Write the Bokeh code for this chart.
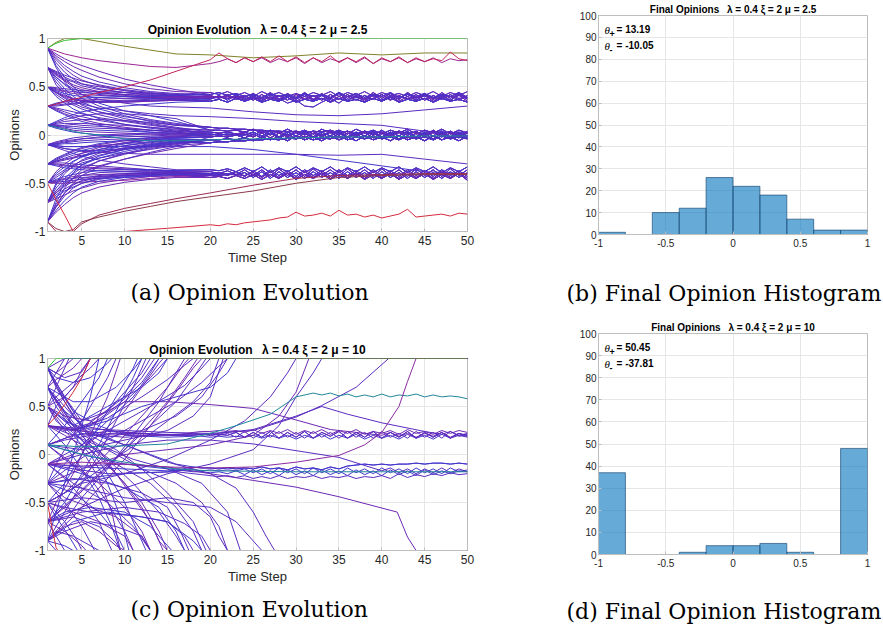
from bokeh.plotting import figure
from bokeh.layouts import row, column
from bokeh.models import Title, Label, FixedTicker, Range1d, CustomJSTickFormatter, ColumnDataSource
from bokeh.embed import file_html
from bokeh.resources import INLINE

# ---------------- data ----------------
X_TICKS = [5, 10, 15, 20, 25, 30, 35, 40, 45, 50]
Y_TICKS = [-1, -0.5, 0, 0.5, 1]
H_XTICKS = [-1, -0.5, 0, 0.5, 1]
H_YTICKS = [0, 10, 20, 30, 40, 50, 60, 70, 80, 90, 100]

TITLE_A = "Opinion Evolution\u2002 \u03bb = 0.4 \u03be = 2 \u03bc = 2.5"
TITLE_B = "Final Opinions\u2002 \u03bb = 0.4 \u03be = 2 \u03bc = 2.5"
TITLE_C = "Opinion Evolution\u2002 \u03bb = 0.4 \u03be = 2 \u03bc = 10"
TITLE_D = "Final Opinions\u2002 \u03bb = 0.4 \u03be = 2 \u03bc = 10"
CAP_A = "(a) Opinion Evolution"
CAP_B = "(b) Final Opinion Histogram"
CAP_C = "(c) Opinion Evolution"
CAP_D = "(d) Final Opinion Histogram"
THETA_B = ["13.19", "-10.05"]
THETA_D = ["50.45", "-37.81"]

BIN_EDGES = [-1, -0.8, -0.6, -0.4, -0.2, 0, 0.2, 0.4, 0.6, 0.8, 1]
COUNTS_B = [1, 0, 10, 12, 26, 22, 18, 7, 2, 2]
COUNTS_D = [37, 0, 0, 1, 4, 4, 5, 1, 0, 48]

COL = {
    "V": "#5a2cc0", "B": "#4536cc", "P": "#6e28b4", "M": "#9b2590",
    "C": "#c0245a", "R": "#d42a3c", "MR": "#9a2c55", "MR2": "#8a3a4a",
    "O": "#80802a", "G": "#33c433", "T": "#21879b", "M2": "#8a2aa0",
}

# ---- panel (a): early knots + late part (track name or knot values) ----
T_E = [1, 2, 3, 4, 5, 7, 10, 13, 16]
T_L = [20, 25, 30, 35, 40, 45, 50]
T_Z = list(range(20, 51))

A_TRACKS = {
 "UZ1": [0.41,0.38,0.42,0.37,0.41,0.36,0.42,0.37,0.41,0.36,0.42,0.37,0.41,0.36,0.42,0.37,0.42,0.36,0.41,0.37,0.42,0.36,0.41,0.37,0.42,0.36,0.41,0.37,0.42,0.36,0.41],
 "UZ2": [0.37,0.41,0.36,0.42,0.37,0.41,0.36,0.42,0.36,0.41,0.37,0.42,0.36,0.41,0.37,0.43,0.36,0.41,0.37,0.42,0.36,0.41,0.37,0.43,0.36,0.42,0.37,0.41,0.36,0.42,0.37],
 "UZ3": [0.44,0.42,0.45,0.41,0.44,0.40,0.45,0.41,0.44,0.40,0.43,0.40,0.44,0.41,0.45,0.40,0.44,0.41,0.45,0.40,0.44,0.41,0.43,0.40,0.44,0.41,0.45,0.40,0.44,0.41,0.45],
 "UZ4": [0.35,0.37,0.34,0.38,0.35,0.38,0.34,0.37,0.35,0.39,0.34,0.37,0.35,0.38,0.34,0.38,0.35,0.37,0.34,0.38,0.35,0.39,0.34,0.37,0.35,0.38,0.34,0.38,0.35,0.37,0.34],
 "UZ5": [0.39,0.40,0.38,0.40,0.39,0.43,0.38,0.44,0.37,0.43,0.38,0.44,0.37,0.43,0.38,0.44,0.38,0.43,0.37,0.44,0.38,0.43,0.37,0.44,0.38,0.43,0.37,0.44,0.38,0.43,0.38],
 "UZ6": [0.40,0.39,0.40,0.39,0.36,0.40,0.35,0.40,0.35,0.41,0.35,0.40,0.36,0.41,0.35,0.40,0.36,0.40,0.35,0.41,0.36,0.40,0.35,0.40,0.36,0.41,0.35,0.40,0.36,0.41,0.35],
 "UZ7": [0.38,0.39,0.38,0.39,0.38,0.39,0.38,0.39,0.38,0.33,0.36,0.30,0.29,0.34,0.38,0.33,0.40,0.39,0.37,0.38,0.42,0.37,0.40,0.38,0.39,0.40,0.38,0.39,0.40,0.38,0.39],
 "UZ8": [0.42,0.44,0.41,0.43,0.40,0.42,0.39,0.43,0.40,0.42,0.39,0.43,0.40,0.42,0.39,0.44,0.40,0.43,0.39,0.42,0.40,0.44,0.39,0.42,0.40,0.43,0.39,0.42,0.40,0.44,0.39],
 "MZ1": [0.03,0.02,0.03,0.01,0.03,0.00,0.04,0.00,0.04,-0.01,0.04,0.00,0.04,-0.01,0.04,0.00,0.04,-0.01,0.04,0.00,0.05,-0.01,0.04,0.00,0.04,-0.01,0.05,0.00,0.04,-0.01,0.04],
 "MZ2": [-0.02,-0.01,-0.02,0.00,-0.03,0.01,-0.03,0.02,-0.03,0.01,-0.04,0.02,-0.03,0.01,-0.04,0.02,-0.03,0.01,-0.04,0.02,-0.03,0.01,-0.04,0.02,-0.03,0.01,-0.04,0.02,-0.03,0.01,-0.03],
 "MZ3": [0.05,0.05,0.04,0.05,0.03,0.06,0.02,0.05,0.02,0.06,0.02,0.05,0.01,0.06,0.02,0.05,0.01,0.06,0.02,0.05,0.01,0.05,0.02,0.06,0.01,0.05,0.02,0.06,0.01,0.05,0.02],
 "MZ4": [-0.05,-0.05,-0.04,-0.05,-0.03,-0.06,-0.02,-0.05,-0.02,-0.06,-0.01,-0.05,-0.02,-0.06,-0.01,-0.05,-0.02,-0.06,-0.01,-0.05,-0.02,-0.06,-0.01,-0.05,-0.02,-0.06,-0.01,-0.05,-0.02,-0.06,-0.01],
 "MZ5": [0.00,0.01,0.00,0.01,0.01,-0.02,0.02,-0.03,0.02,-0.02,0.03,-0.03,0.02,-0.02,0.03,-0.03,0.02,-0.02,0.03,-0.03,0.02,-0.02,0.03,-0.03,0.02,-0.02,0.03,-0.02,0.02,-0.03,0.02],
 "MZ6": [0.08,0.07,0.07,0.06,0.06,0.05,0.05,0.04,0.04,0.03,0.04,0.02,0.04,0.03,0.05,0.02,0.04,0.01,0.04,0.02,0.03,0.01,0.04,0.02,0.03,0.01,0.04,0.02,0.03,0.01,0.03],
 "MZ7": [-0.08,-0.07,-0.07,-0.06,-0.06,-0.05,-0.05,-0.04,-0.05,-0.03,-0.04,-0.02,-0.05,-0.03,-0.04,-0.01,-0.05,-0.02,-0.04,-0.01,-0.04,-0.02,-0.05,-0.01,-0.04,-0.02,-0.05,-0.01,-0.04,-0.02,-0.04],
 "MZ8": [0.01,0.00,0.01,0.00,0.00,0.03,-0.01,0.04,-0.02,0.03,-0.01,0.04,-0.02,0.03,-0.01,0.04,-0.02,0.03,-0.01,0.04,-0.02,0.03,-0.01,0.04,-0.02,0.03,-0.01,0.04,-0.02,0.03,-0.01],
 "LZ1": [-0.38,-0.40,-0.37,-0.41,-0.36,-0.42,-0.36,-0.43,-0.35,-0.42,-0.36,-0.43,-0.35,-0.42,-0.36,-0.43,-0.35,-0.42,-0.36,-0.43,-0.35,-0.42,-0.36,-0.43,-0.35,-0.42,-0.36,-0.43,-0.35,-0.42,-0.36],
 "LZ2": [-0.41,-0.39,-0.42,-0.38,-0.43,-0.37,-0.43,-0.36,-0.42,-0.37,-0.43,-0.36,-0.42,-0.37,-0.43,-0.36,-0.42,-0.37,-0.43,-0.36,-0.42,-0.37,-0.43,-0.36,-0.42,-0.37,-0.43,-0.36,-0.42,-0.37,-0.43],
 "LZ3": [-0.44,-0.43,-0.45,-0.42,-0.45,-0.41,-0.46,-0.41,-0.45,-0.40,-0.46,-0.41,-0.45,-0.40,-0.46,-0.41,-0.45,-0.40,-0.46,-0.41,-0.45,-0.40,-0.46,-0.41,-0.45,-0.40,-0.46,-0.41,-0.45,-0.40,-0.47],
 "LZ4": [-0.36,-0.37,-0.35,-0.38,-0.34,-0.38,-0.33,-0.39,-0.34,-0.38,-0.33,-0.39,-0.34,-0.38,-0.33,-0.39,-0.34,-0.38,-0.33,-0.39,-0.34,-0.38,-0.33,-0.39,-0.34,-0.38,-0.33,-0.39,-0.34,-0.38,-0.33],
 "LZ5": [-0.40,-0.41,-0.40,-0.41,-0.39,-0.44,-0.38,-0.45,-0.38,-0.44,-0.39,-0.45,-0.38,-0.44,-0.39,-0.45,-0.38,-0.44,-0.39,-0.45,-0.38,-0.44,-0.39,-0.45,-0.38,-0.44,-0.39,-0.45,-0.38,-0.44,-0.39],
 "LZ6": [-0.42,-0.42,-0.41,-0.41,-0.42,-0.39,-0.44,-0.38,-0.44,-0.39,-0.45,-0.38,-0.44,-0.39,-0.45,-0.38,-0.44,-0.39,-0.45,-0.38,-0.44,-0.39,-0.45,-0.38,-0.44,-0.39,-0.45,-0.38,-0.44,-0.39,-0.45],
 "MG1": [0.74,0.76,0.79,0.75,0.80,0.76,0.80,0.75,0.79,0.76,0.80,0.74,0.80,0.75,0.79,0.76,0.80,0.75,0.80,0.74,0.79,0.76,0.80,0.75,0.79,0.76,0.80,0.75,0.79,0.77,0.78],
 "MG2": [0.78,0.85,0.79,0.75,0.80,0.76,0.81,0.76,0.82,0.76,0.81,0.75,0.80,0.76,0.82,0.75,0.80,0.76,0.81,0.74,0.80,0.76,0.81,0.75,0.80,0.76,0.79,0.77,0.86,0.79,0.77],
 "RZ": [-0.93,-0.94,-0.92,-0.93,-0.91,-0.90,-0.89,-0.88,-0.86,-0.85,-0.80,-0.84,-0.83,-0.81,-0.84,-0.78,-0.83,-0.82,-0.85,-0.83,-0.86,-0.84,-0.82,-0.77,-0.85,-0.84,-0.83,-0.82,-0.84,-0.81,-0.82],
}

A_LINES = [
 ([0.9,0.96,1.0,1.0,1.0,0.97,0.92,0.88,0.84], [0.83,0.80,0.82,0.85,0.83,0.85,0.85], "O"),
 ([0.9,0.87,0.84,0.82,0.8,0.77,0.74,0.71,0.70], "MG1", "M"),
 ([0.9,0.82,0.76,0.71,0.67,0.6,0.53,0.48,0.45], "UZ3", "P"),
 ([0.9,0.8,0.72,0.66,0.61,0.55,0.49,0.45,0.43], "UZ1", "V"),
 ([0.9,0.78,0.69,0.62,0.57,0.51,0.46,0.43,0.41], "UZ5", "P"),
 ([0.9,0.75,0.65,0.58,0.53,0.48,0.44,0.42,0.40], "UZ2", "V"),
 ([0.9,0.84,0.79,0.75,0.72,0.66,0.58,0.52,0.47], "UZ8", "P"),
 ([0.9,0.7,0.55,0.45,0.38,0.3,0.22,0.16,0.12], "MZ6", "V"),
 ([0.9,0.72,0.6,0.5,0.42,0.33,0.25,0.2,0.14], "MZ3", "B"),
 ([0.7,0.65,0.6,0.56,0.53,0.5,0.46,0.43,0.41], "UZ6", "V"),
 ([0.7,0.63,0.57,0.52,0.49,0.45,0.42,0.40,0.39], "UZ4", "P"),
 ([0.7,0.66,0.62,0.59,0.56,0.52,0.47,0.44,0.42], "UZ8", "V"),
 ([0.7,0.6,0.53,0.48,0.45,0.42,0.4,0.38,0.37], "UZ7", "B"),
 ([0.7,0.62,0.56,0.5,0.47,0.44,0.41,0.39,0.38], "UZ1", "P"),
 ([0.7,0.64,0.58,0.55,0.51,0.47,0.44,0.41,0.40], "UZ2", "V"),
 ([0.7,0.55,0.45,0.37,0.31,0.24,0.17,0.12,0.08], "MZ1", "V"),
 ([0.7,0.58,0.48,0.4,0.34,0.27,0.2,0.14,0.1], "MZ6", "B"),
 ([0.7,0.52,0.42,0.37,0.35,0.34,0.34,0.35,0.36], "UZ4", "V"),
 ([0.7,0.6,0.52,0.46,0.42,0.37,0.33,0.3,0.29], [0.28,0.24,0.21,0.2,0.22,0.26,0.3], "V"),
 ([0.5,0.48,0.46,0.45,0.44,0.43,0.42,0.41,0.40], "UZ5", "V"),
 ([0.5,0.47,0.45,0.43,0.42,0.41,0.4,0.39,0.39], "UZ6", "P"),
 ([0.5,0.49,0.48,0.47,0.46,0.45,0.44,0.43,0.42], "UZ3", "V"),
 ([0.5,0.46,0.43,0.41,0.4,0.39,0.38,0.38,0.37], "UZ2", "B"),
 ([0.5,0.45,0.41,0.38,0.36,0.35,0.35,0.36,0.36], "UZ4", "V"),
 ([0.5,0.44,0.4,0.37,0.35,0.34,0.34,0.35,0.36], "UZ1", "P"),
 ([0.5,0.42,0.36,0.31,0.27,0.21,0.15,0.11,0.07], "MZ5", "V"),
 ([0.5,0.4,0.33,0.27,0.23,0.17,0.11,0.07,0.04], "MZ8", "B"),
 ([0.5,0.44,0.38,0.33,0.29,0.24,0.19,0.15,0.11], "MZ6", "V"),
 ([0.5,0.44,0.39,0.35,0.32,0.28,0.25,0.22,0.2], [0.19,0.17,0.14,0.12,0.1,0.04,0.02], "V"),
 ([0.3,0.31,0.32,0.33,0.34,0.35,0.36,0.37,0.38], "UZ7", "V"),
 ([0.3,0.32,0.34,0.35,0.36,0.37,0.38,0.39,0.4], "UZ5", "P"),
 ([0.3,0.3,0.31,0.32,0.33,0.34,0.35,0.36,0.37], "UZ4", "V"),
 ([0.3,0.33,0.35,0.37,0.38,0.39,0.4,0.4,0.41], "UZ8", "B"),
 ([0.3,0.27,0.24,0.21,0.19,0.15,0.11,0.08,0.05], "MZ1", "V"),
 ([0.3,0.26,0.22,0.19,0.16,0.12,0.08,0.05,0.03], "MZ5", "P"),
 ([0.3,0.28,0.26,0.24,0.22,0.18,0.14,0.1,0.07], "MZ3", "V"),
 ([0.3,0.25,0.21,0.17,0.14,0.1,0.06,0.03,0.01], "MZ8", "B"),
 ([0.1,0.1,0.09,0.09,0.08,0.07,0.06,0.05,0.04], "MZ1", "V"),
 ([0.1,0.09,0.08,0.07,0.06,0.05,0.04,0.03,0.02], "MZ2", "B"),
 ([0.1,0.11,0.12,0.12,0.12,0.11,0.1,0.08,0.06], "MZ3", "V"),
 ([0.1,0.08,0.07,0.05,0.04,0.03,0.02,0.01,0.0], "MZ5", "P"),
 ([0.1,0.12,0.14,0.15,0.16,0.16,0.15,0.13,0.1], "MZ6", "V"),
 ([0.1,0.07,0.05,0.03,0.02,0.0,-0.01,-0.02,-0.02], "MZ8", "B"),
 ([0.1,0.13,0.16,0.18,0.2,0.22,0.22,0.2,0.17], "MZ3", "V"),
 ([0.1,0.09,0.1,0.11,0.1,0.09,0.07,0.05,0.03], "MZ2", "V"),
 ([0.1,0.14,0.18,0.21,0.24,0.27,0.3,0.32,0.34], "UZ4", "B"),
 ([-0.1,-0.09,-0.08,-0.07,-0.06,-0.05,-0.04,-0.03,-0.02], "MZ2", "V"),
 ([-0.1,-0.1,-0.09,-0.09,-0.08,-0.07,-0.06,-0.05,-0.04], "MZ4", "B"),
 ([-0.1,-0.08,-0.06,-0.05,-0.04,-0.03,-0.02,-0.01,0.0], "MZ5", "V"),
 ([-0.1,-0.11,-0.12,-0.12,-0.12,-0.11,-0.09,-0.07,-0.05], "MZ7", "P"),
 ([-0.1,-0.07,-0.05,-0.03,-0.02,0.0,0.01,0.02,0.02], "MZ8", "V"),
 ([-0.1,-0.12,-0.14,-0.15,-0.16,-0.16,-0.14,-0.11,-0.08], "MZ7", "B"),
 ([-0.1,-0.09,-0.07,-0.06,-0.04,-0.02,0.0,0.01,0.01], "MZ1", "V"),
 ([-0.1,-0.13,-0.16,-0.19,-0.22,-0.26,-0.3,-0.33,-0.36], "LZ4", "V"),
 ([-0.1,-0.11,-0.12,-0.12,-0.12,-0.12,-0.12,-0.12,-0.12], [-0.12,-0.15,-0.2,-0.26,-0.32,-0.38,-0.4], "B"),
 ([-0.1,-0.12,-0.14,-0.16,-0.17,-0.18,-0.19,-0.2,-0.2], [-0.2,-0.2,-0.2,-0.21,-0.2,-0.25,-0.3], "V"),
 ([-0.3,-0.31,-0.32,-0.33,-0.34,-0.35,-0.36,-0.37,-0.38], "LZ1", "V"),
 ([-0.3,-0.3,-0.31,-0.32,-0.33,-0.34,-0.35,-0.36,-0.37], "LZ4", "P"),
 ([-0.3,-0.32,-0.34,-0.35,-0.36,-0.37,-0.38,-0.39,-0.4], "LZ2", "B"),
 ([-0.3,-0.29,-0.29,-0.3,-0.31,-0.32,-0.34,-0.36,-0.38], "LZ5", "V"),
 ([-0.3,-0.27,-0.24,-0.21,-0.19,-0.15,-0.11,-0.08,-0.05], "MZ4", "V"),
 ([-0.3,-0.26,-0.22,-0.19,-0.16,-0.12,-0.08,-0.05,-0.03], "MZ2", "B"),
 ([-0.3,-0.28,-0.26,-0.24,-0.22,-0.18,-0.14,-0.1,-0.07], "MZ7", "V"),
 ([-0.3,-0.25,-0.21,-0.17,-0.14,-0.1,-0.06,-0.03,-0.01], "MZ5", "P"),
 ([-0.3,-0.27,-0.25,-0.23,-0.21,-0.18,-0.15,-0.12,-0.09], "MZ4", "V"),
 ([-0.3,-0.24,-0.2,-0.16,-0.13,-0.09,-0.05,-0.03,-0.02], "MZ8", "B"),
 ([-0.5,-0.48,-0.46,-0.45,-0.44,-0.43,-0.42,-0.41,-0.4], "LZ2", "V"),
 ([-0.5,-0.47,-0.45,-0.43,-0.42,-0.41,-0.4,-0.4,-0.39], "LZ1", "P"),
 ([-0.5,-0.49,-0.48,-0.47,-0.46,-0.45,-0.44,-0.43,-0.42], "LZ3", "V"),
 ([-0.5,-0.46,-0.43,-0.41,-0.39,-0.37,-0.36,-0.36,-0.37], "LZ4", "B"),
 ([-0.5,-0.5,-0.5,-0.49,-0.49,-0.48,-0.47,-0.45,-0.43], "LZ6", "M2"),
 ([-0.5,-0.42,-0.36,-0.31,-0.27,-0.21,-0.15,-0.11,-0.07], "MZ7", "V"),
 ([-0.5,-0.4,-0.33,-0.27,-0.23,-0.17,-0.11,-0.07,-0.04], "MZ4", "B"),
 ([-0.5,-0.44,-0.38,-0.33,-0.29,-0.24,-0.19,-0.15,-0.11], "MZ7", "V"),
 ([-0.5,-0.38,-0.3,-0.24,-0.19,-0.13,-0.08,-0.04,-0.02], "MZ2", "P"),
 ([-0.7,-0.62,-0.56,-0.51,-0.48,-0.44,-0.42,-0.41,-0.4], "LZ5", "V"),
 ([-0.7,-0.64,-0.58,-0.54,-0.5,-0.46,-0.43,-0.42,-0.41], "LZ3", "B"),
 ([-0.7,-0.6,-0.53,-0.48,-0.45,-0.42,-0.4,-0.39,-0.39], "LZ1", "V"),
 ([-0.7,-0.66,-0.62,-0.58,-0.55,-0.5,-0.46,-0.43,-0.42], "LZ6", "P"),
 ([-0.7,-0.58,-0.5,-0.45,-0.42,-0.39,-0.38,-0.38,-0.38], "LZ2", "V"),
 ([-0.7,-0.55,-0.45,-0.37,-0.31,-0.24,-0.17,-0.12,-0.08], "MZ4", "B"),
 ([-0.7,-0.52,-0.4,-0.32,-0.26,-0.19,-0.13,-0.09,-0.06], "MZ7", "V"),
 ([-0.7,-0.58,-0.48,-0.4,-0.34,-0.27,-0.2,-0.14,-0.1], "MZ4", "V"),
 ([-0.7,-0.5,-0.37,-0.28,-0.22,-0.15,-0.09,-0.05,-0.03], "MZ2", "B"),
 ([-0.7,-0.6,-0.52,-0.45,-0.39,-0.32,-0.25,-0.19,-0.14], "MZ7", "P"),
 ([-0.9,-0.75,-0.63,-0.55,-0.5,-0.45,-0.42,-0.41,-0.4], "LZ3", "V"),
 ([-0.9,-0.78,-0.68,-0.6,-0.54,-0.48,-0.44,-0.42,-0.41], "LZ5", "B"),
 ([-0.9,-0.72,-0.6,-0.52,-0.47,-0.43,-0.41,-0.4,-0.39], "LZ6", "V"),
 ([-0.9,-0.8,-0.72,-0.65,-0.6,-0.54,-0.49,-0.46,-0.44], "LZ3", "P"),
 ([-0.9,-0.7,-0.55,-0.44,-0.36,-0.27,-0.19,-0.13,-0.09], "MZ4", "V"),
 ([-0.9,-0.66,-0.5,-0.39,-0.31,-0.22,-0.15,-0.1,-0.06], "MZ7", "B"),
 ([-0.9,-0.74,-0.6,-0.5,-0.42,-0.33,-0.25,-0.18,-0.12], "MZ2", "V"),
 ([0.1,0.08,0.06,0.04,0.02,0.0,-0.04,-0.06,-0.06], [-0.05,-0.04,-0.03,-0.02,-0.02,-0.01,-0.01], "T"),
 ([-0.9,-1.0,-1.0,-1.0,-0.92,-0.83,-0.76,-0.71,-0.66], [-0.6,-0.52,-0.45,-0.42,-0.41,-0.4,-0.4], "MR"),
 ([-0.9,-0.97,-1.0,-0.98,-0.9,-0.85,-0.79,-0.74,-0.69], [-0.64,-0.58,-0.5,-0.44,-0.42,-0.41,-0.41], "MR2"),
 ([0.3,0.32,0.35,0.37,0.39,0.44,0.5,0.57,0.66], "MG2", "C"),
 ([-0.5,-0.67,-0.83,-1.0,-1.0,-1.0,-1.0,-0.98,-0.96], "RZ", "R"),
 ([0.9,0.95,0.98,0.99,1.0,1.0,1.0,1.0,1.0], [1,1,1,1,1,1,1], "G"),
]

# ---- panel (c): knot lists (t, v), optional zig-zag track from t=18 ----
T_CT = list(range(18, 51))
C_TRACKS = {
 "CU1": [0.2,0.21,0.2,0.21,0.2,0.23,0.18,0.23,0.18,0.24,0.17,0.23,0.18,0.24,0.17,0.23,0.19,0.24,0.17,0.23,0.18,0.24,0.17,0.23,0.18,0.24,0.17,0.23,0.18,0.23,0.17,0.22,0.19],
 "CU2": [0.22,0.21,0.22,0.2,0.22,0.18,0.24,0.17,0.23,0.18,0.24,0.18,0.23,0.17,0.24,0.18,0.23,0.17,0.24,0.18,0.23,0.17,0.24,0.18,0.22,0.17,0.24,0.18,0.23,0.17,0.24,0.19,0.21],
 "CU3": [0.19,0.19,0.18,0.19,0.18,0.19,0.18,0.2,0.17,0.2,0.17,0.2,0.16,0.2,0.17,0.21,0.16,0.2,0.17,0.21,0.16,0.2,0.17,0.2,0.16,0.21,0.17,0.2,0.16,0.21,0.17,0.2,0.18],
 "CU4": [0.23,0.24,0.24,0.25,0.24,0.25,0.23,0.26,0.22,0.25,0.22,0.26,0.21,0.25,0.22,0.26,0.21,0.25,0.22,0.26,0.21,0.24,0.22,0.25,0.21,0.26,0.22,0.24,0.21,0.25,0.22,0.25,0.23],
 "CL1": [-0.16,-0.17,-0.16,-0.17,-0.16,-0.17,-0.15,-0.19,-0.15,-0.2,-0.14,-0.19,-0.15,-0.2,-0.14,-0.19,-0.15,-0.2,-0.14,-0.19,-0.15,-0.2,-0.14,-0.19,-0.15,-0.2,-0.14,-0.19,-0.15,-0.2,-0.14,-0.18,-0.16],
 "CL2": [-0.18,-0.18,-0.19,-0.18,-0.2,-0.17,-0.21,-0.16,-0.21,-0.17,-0.22,-0.16,-0.21,-0.17,-0.22,-0.16,-0.21,-0.17,-0.22,-0.16,-0.21,-0.17,-0.22,-0.16,-0.21,-0.17,-0.22,-0.16,-0.21,-0.17,-0.2,-0.17,-0.18],
 "CL3": [-0.13,-0.14,-0.14,-0.15,-0.14,-0.15,-0.14,-0.15,-0.13,-0.15,-0.14,-0.16,-0.13,-0.15,-0.14,-0.16,-0.13,-0.15,-0.12,-0.11,-0.1,-0.11,-0.1,-0.11,-0.1,-0.1,-0.09,-0.1,-0.09,-0.09,-0.1,-0.09,-0.1],
 "CL4": [-0.2,-0.21,-0.22,-0.23,-0.22,-0.24,-0.22,-0.25,-0.23,-0.25,-0.22,-0.25,-0.23,-0.24,-0.22,-0.25,-0.23,-0.24,-0.22,-0.25,-0.23,-0.24,-0.22,-0.25,-0.2,-0.24,-0.21,-0.23,-0.2,-0.22,-0.19,-0.21,-0.2],
}

C_LINES = [
 ([(1,0.9),(3,1),(50,1)], None, "V"),
 ([(1,0.9),(2,0.85),(3,0.92),(4,1),(50,1)], None, "P"),
 ([(1,0.9),(3,0.8),(5,0.86),(6,1),(50,1)], None, "V"),
 ([(1,0.9),(2,0.8),(4,0.75),(6,0.8),(8,0.95),(8.5,1),(50,1)], None, "B"),
 ([(1,0.9),(3,0.6),(5,0.35),(8,0.45),(10,0.65),(12,0.85),(13,1),(50,1)], None, "V"),
 ([(1,0.9),(3,0.55),(5,0.28),(7,0.05),(9,-0.2),(11,-0.45),(13,-0.7),(14,-0.9),(15,-1),(50,-1)], None, "P"),
 ([(1,0.9),(2,0.7),(4,0.4),(6,0.2),(9,0.05),(12,-0.15),(15,-0.4),(18,-0.7),(19.5,-1),(50,-1)], None, "V"),
 ([(1,0.9),(3,0.6),(5,0.3),(8,0.25),(12,0.22),(16,0.2)], "CU1", "V"),
 ([(1,0.9),(2,0.72),(4,0.45),(7,0.3),(10,0.2),(15,0.18)], "CU3", "B"),
 ([(1,0.7),(2,0.85),(3,1),(50,1)], None, "V"),
 ([(1,0.7),(2,0.78),(4,0.9),(5,1),(50,1)], None, "P"),
 ([(1,0.7),(3,0.5),(5,0.3),(7,0.35),(10,0.55),(13,0.8),(15,1),(50,1)], None, "V"),
 ([(1,0.7),(2,0.65),(4,0.55),(6,0.55),(9,0.7),(11,0.88),(12,1),(50,1)], None, "B"),
 ([(1,0.7),(3,0.45),(5,0.22),(8,0.18),(12,0.25),(16,0.4),(19,0.6),(21,0.85),(22,1),(50,1)], None, "V"),
 ([(1,0.7),(3,0.4),(5,0.2),(7,0.0),(10,-0.3),(12,-0.55),(13.5,-0.8),(14.5,-1),(50,-1)], None, "P"),
 ([(1,0.7),(4,0.3),(6,0.1),(9,-0.1),(13,-0.3),(16,-0.55),(18,-0.8),(19,-1),(50,-1)], None, "V"),
 ([(1,0.7),(2,0.5),(4,0.25),(6,0.05),(8,-0.2),(10,-0.5),(11.5,-0.8),(12.5,-1),(50,-1)], None, "B"),
 ([(1,0.7),(4,0.3),(7,0.2),(10,0.18),(14,0.2)], "CU2", "V"),
 ([(1,0.7),(3,0.45),(6,0.25),(10,0.1),(13,0.0),(16,-0.1)], "CL3", "B"),
 ([(1,0.5),(2,0.7),(3,0.9),(3.5,1),(50,1)], None, "V"),
 ([(1,0.5),(3,0.6),(5,0.8),(6,1),(50,1)], None, "P"),
 ([(1,0.5),(3,0.35),(5,0.28),(8,0.38),(12,0.6),(15,0.78),(17,0.93),(18,1),(50,1)], None, "V"),
 ([(1,0.5),(4,0.3),(8,0.5),(12,0.7),(14,0.85),(15,1),(50,1)], None, "B"),
 ([(1,0.5),(2,0.6),(4,0.75),(6,0.9),(7,1),(50,1)], None, "V"),
 ([(1,0.5),(3,0.4),(6,0.35),(10,0.55),(15,0.55),(20,0.52),(25,0.48),(30,0.36),(34,0.26),(38,0.22),(40,0.2),(41,0.23),(42,0.19),(43,0.22),(44,0.18),(45,0.22),(46,0.19),(47,0.23),(48,0.18),(49,0.22),(50,0.2)], None, "P"),
 ([(1,0.5),(3,0.3),(5,0.15),(8,-0.05),(11,-0.3),(14,-0.6),(16,-0.85),(17,-1),(50,-1)], None, "V"),
 ([(1,0.5),(2,0.35),(4,0.2),(6,0.0),(8,-0.3),(9.5,-0.65),(10.5,-1),(50,-1)], None, "B"),
 ([(1,0.5),(4,0.27),(7,0.1),(11,-0.05),(15,-0.15),(19,-0.3),(22,-0.6),(23.5,-1),(50,-1)], None, "V"),
 ([(1,0.5),(3,0.25),(5,0.05),(7,-0.25),(8.5,-0.6),(9.5,-1),(50,-1)], None, "P"),
 ([(1,0.3),(3,0.25),(6,0.3),(9,0.5),(12,0.75),(14,1),(50,1)], None, "V"),
 ([(1,0.3),(4,0.25),(8,0.35),(12,0.5),(16,0.6),(20,0.7),(22,0.85),(23,1),(50,1)], None, "B"),
 ([(1,0.3),(2,0.5),(4,0.7),(5,0.88),(6,1),(50,1)], None, "V"),
 ([(1,0.3),(5,0.27),(10,0.25),(15,0.23),(20,0.22),(25,0.25),(30,0.39),(33,0.51),(37,0.7),(40.8,1),(50,1)], None, "V"),
 ([(1,0.3),(3,0.2),(6,0.05),(9,-0.2),(12,-0.5),(14,-0.8),(15,-1),(50,-1)], None, "P"),
 ([(1,0.3),(4,0.2),(8,0.05),(12,-0.15),(16,-0.3),(19,-0.5),(21,-0.75),(22,-1),(50,-1)], None, "V"),
 ([(1,0.3),(3,0.1),(5,-0.15),(7,-0.45),(8.5,-0.75),(9.5,-1),(50,-1)], None, "B"),
 ([(1,0.3),(5,0.25),(10,0.1),(15,-0.08),(20,-0.2),(23,-0.35),(25,-0.6),(26.5,-0.85),(27.5,-1),(50,-1)], None, "V"),
 ([(1,0.3),(4,0.25),(8,0.22),(12,0.2),(16,0.2)], "CU4", "P"),
 ([(1,0.1),(4,0.2),(7,0.4),(10,0.6),(12,0.8),(13.5,1),(50,1)], None, "V"),
 ([(1,0.1),(3,0.3),(5,0.55),(7,0.8),(8,1),(50,1)], None, "B"),
 ([(1,0.1),(5,0.05),(10,0.15),(15,0.25),(18,0.4),(20,0.6),(21.5,1),(50,1)], None, "V"),
 ([(1,0.1),(4,-0.1),(7,-0.3),(10,-0.55),(12,-0.8),(13,-1),(50,-1)], None, "P"),
 ([(1,0.1),(3,-0.05),(6,-0.25),(8,-0.5),(10,-0.8),(11,-1),(50,-1)], None, "V"),
 ([(1,0.1),(4,0.2),(8,0.24),(12,0.22),(16,0.2)], "CU1", "V"),
 ([(1,0.1),(3,0.15),(6,0.2),(10,0.22),(15,0.21),(20,0.21),(25,0.26),(30,0.4),(33,0.5),(36,0.42),(40,0.33),(45,0.24),(47,0.21),(48,0.24),(49,0.2),(50,0.22)], None, "V"),
 ([(1,0.1),(5,0.0),(10,-0.1),(15,-0.15)], "CL2", "B"),
 ([(1,-0.1),(5,-0.13),(10,-0.15),(15,-0.17)], "CL1", "B"),
 ([(1,-0.1),(4,-0.15),(8,-0.2),(12,-0.19),(16,-0.18)], "CL4", "V"),
 ([(1,-0.1),(5,0.0),(10,0.1),(15,0.15),(20,0.15),(25,0.11),(30,0.04),(35,-0.03),(40,-0.17),(41,-0.14),(42,-0.19),(43,-0.15),(44,-0.2),(45,-0.15),(46,-0.19),(47,-0.14),(48,-0.19),(49,-0.15),(50,-0.18)], None, "V"),
 ([(1,-0.1),(5,-0.12),(10,-0.1),(15,-0.13),(20,-0.2),(25,-0.27),(30,-0.34),(35,-0.44),(41.8,-0.6),(43,-0.86),(44,-1),(50,-1)], None, "P"),
 ([(1,-0.1),(3,-0.25),(5,-0.45),(7,-0.7),(8.5,-1),(50,-1)], None, "V"),
 ([(1,-0.1),(5,-0.2),(10,-0.35),(14,-0.55),(16,-0.8),(17,-1),(50,-1)], None, "B"),
 ([(1,-0.1),(4,-0.3),(8,-0.5),(11,-0.75),(13,-1),(50,-1)], None, "V"),
 ([(1,-0.1),(4,0.0),(7,0.2),(10,0.45),(12,0.7),(14,0.95),(14.5,1),(50,1)], None, "P"),
 ([(1,-0.1),(5,0.1),(9,0.3),(13,0.5),(17,0.72),(19,0.9),(20,1),(50,1)], None, "V"),
 ([(1,-0.3),(3,-0.5),(5,-0.75),(6.5,-1),(50,-1)], None, "V"),
 ([(1,-0.3),(4,-0.4),(7,-0.6),(9,-0.82),(10,-1),(50,-1)], None, "B"),
 ([(1,-0.3),(5,-0.35),(10,-0.45),(15,-0.5),(20,-0.55),(23,-0.7),(25,-0.9),(26,-1),(50,-1)], None, "V"),
 ([(1,-0.3),(3,-0.45),(6,-0.55),(9,-0.65),(12,-0.85),(13,-1),(50,-1)], None, "P"),
 ([(1,-0.3),(4,-0.25),(8,-0.3),(12,-0.4),(15,-0.55),(16.5,-0.8),(17.5,-1),(50,-1)], None, "V"),
 ([(1,-0.3),(3,-0.1),(5,0.1),(8,0.35),(11,0.6),(13,0.85),(14,1),(50,1)], None, "B"),
 ([(1,-0.3),(4,-0.1),(8,0.15),(12,0.35),(16,0.55),(19,0.75),(21,0.92),(22,1),(50,1)], None, "V"),
 ([(1,-0.3),(5,-0.15),(10,0.0),(15,0.05),(20,0.1),(25,0.2),(28,0.4),(30,0.65),(31.5,1),(50,1)], None, "P"),
 ([(1,-0.3),(2,-0.1),(4,0.2),(6,0.5),(8,0.8),(9,1),(50,1)], None, "V"),
 ([(1,-0.3),(5,-0.25),(10,-0.2),(15,-0.18)], "CL3", "B"),
 ([(1,-0.5),(3,-0.7),(4.5,-0.9),(5,-1),(50,-1)], None, "V"),
 ([(1,-0.5),(4,-0.6),(7,-0.7),(10,-0.85),(11,-1),(50,-1)], None, "P"),
 ([(1,-0.5),(3,-0.55),(6,-0.6),(9,-0.62),(12,-0.65),(15,-0.7),(17,-0.85),(18,-1),(50,-1)], None, "V"),
 ([(1,-0.5),(2,-0.65),(3.5,-0.85),(4.5,-1),(50,-1)], None, "B"),
 ([(1,-0.5),(5,-0.45),(10,-0.5),(15,-0.45),(18,-0.5),(20,-0.65),(21,-0.85),(22,-1),(50,-1)], None, "V"),
 ([(1,-0.5),(3,-0.4),(6,-0.15),(9,0.1),(12,0.4),(15,0.7),(17,0.95),(17.5,1),(50,1)], None, "P"),
 ([(1,-0.5),(4,-0.35),(8,-0.1),(12,0.15),(15,0.35),(18,0.55),(20,0.75),(21,1),(50,1)], None, "V"),
 ([(1,-0.5),(3,-0.3),(5,0.0),(7,0.3),(9,0.6),(11,0.9),(11.5,1),(50,1)], None, "B"),
 ([(1,-0.5),(5,-0.3),(10,-0.2),(15,-0.05),(20,0.15),(24,0.35),(27,0.6),(29,0.85),(30,1),(50,1)], None, "V"),
 ([(1,-0.7),(2,-0.85),(3,-1),(50,-1)], None, "V"),
 ([(1,-0.7),(3,-0.8),(5,-0.95),(5.5,-1),(50,-1)], None, "P"),
 ([(1,-0.7),(4,-0.65),(7,-0.75),(9,-0.92),(9.5,-1),(50,-1)], None, "V"),
 ([(1,-0.7),(3,-0.6),(6,-0.55),(10,-0.6),(13,-0.75),(15,-0.95),(15.5,-1),(50,-1)], None, "B"),
 ([(1,-0.7),(5,-0.6),(10,-0.55),(14,-0.6),(17,-0.72),(19,-0.85),(20,-1),(50,-1)], None, "V"),
 ([(1,-0.7),(3,-0.55),(6,-0.3),(9,-0.05),(12,0.25),(15,0.55),(17,0.8),(18.5,1),(50,1)], None, "P"),
 ([(1,-0.7),(4,-0.45),(7,-0.2),(10,0.05),(13,0.3),(16,0.55),(18,0.8),(19.5,1),(50,1)], None, "V"),
 ([(1,-0.7),(3,-0.5),(5,-0.2),(7,0.1),(9,0.45),(11,0.8),(12,1),(50,1)], None, "B"),
 ([(1,-0.7),(5,-0.55),(10,-0.35),(15,-0.2),(20,-0.1),(25,0.05),(28,0.3),(30,0.6),(32,0.85),(33,1),(50,1)], None, "V"),
 ([(1,-0.7),(2,-0.5),(4,-0.2),(6,0.2),(8,0.6),(9.5,1),(50,1)], None, "P"),
 ([(1,-0.9),(2,-1),(50,-1)], None, "V"),
 ([(1,-0.9),(3,-0.95),(4,-1),(50,-1)], None, "B"),
 ([(1,-0.9),(2,-0.8),(4,-0.85),(6,-0.95),(7,-1),(50,-1)], None, "V"),
 ([(1,-0.9),(3,-0.75),(5,-0.7),(7,-0.8),(9,-0.95),(10,-1),(50,-1)], None, "P"),
 ([(1,-0.9),(3,-0.8),(6,-0.7),(9,-0.75),(12,-0.85),(13,-1),(50,-1)], None, "V"),
 ([(1,-0.9),(4,-0.7),(8,-0.6),(12,-0.65),(15,-0.7),(18,-0.9),(19,-1),(50,-1)], None, "B"),
 ([(1,-0.9),(3,-0.7),(5,-0.45),(8,-0.15),(11,0.2),(14,0.55),(16,0.85),(17,1),(50,1)], None, "V"),
 ([(1,-0.9),(4,-0.65),(7,-0.35),(10,-0.05),(13,0.3),(16,0.65),(18,0.9),(19,1),(50,1)], None, "P"),
 ([(1,-0.9),(3,-0.6),(5,-0.3),(7,0.0),(9,0.35),(11,0.7),(12.5,1),(50,1)], None, "V"),
 ([(1,-0.9),(2,-0.6),(3,-0.3),(4,0.0),(5,0.3),(6,0.6),(7,1),(50,1)], None, "B"),
 ([(1,0.1),(3,0.05),(6,-0.02),(10,-0.08),(13,-0.12),(16,-0.15),(20,-0.17),(30,-0.18),(40,-0.18),(50,-0.18)], None, "T"),
 ([(1,0.1),(5,0.08),(10,0.09),(15,0.11),(20,0.22),(23,0.3),(27,0.42),(30,0.6),(32,0.64),(33,0.62),(34,0.64),(35,0.61),(36,0.63),(37,0.6),(38,0.62),(39,0.6),(40,0.63),(41,0.6),(42,0.62),(43,0.61),(44,0.63),(45,0.6),(46,0.62),(47,0.6),(48,0.61),(49,0.6),(50,0.58)], None, "T"),
 ([(1,-0.1),(5,-0.08),(10,-0.1),(15,-0.13),(20,-0.14),(25,-0.13),(30,-0.08),(35,-0.01),(38,0.1),(40,0.23),(42,0.5),(43,0.76),(44,1),(50,1)], None, "M2"),
 ([(1,-0.5),(1.5,-0.75),(2,-0.97),(2.2,-1),(50,-1)], None, "R"),
 ([(1,0.3),(2,0.4),(3,0.52),(4,0.65),(5,0.8),(6,1),(50,1)], None, "R"),
 ([(1,0.9),(2,1),(50,1)], None, "G"),
]

# ---------------- helpers ----------------
TICK_COLOR = "#262626"
BOX_COLOR = "#bdbdbd"
GRID_COLOR = "#e6e6e6"
SANS = "Liberation Sans"
SERIF = "DejaVu Serif"

fmt = CustomJSTickFormatter(code="return String(Math.round(tick*100)/100);")


def style_axes(p, xt, yt, tick_size):
    for ax in (p.xaxis[0], p.yaxis[0]):
        ax.axis_line_color = BOX_COLOR
        ax.major_tick_line_color = BOX_COLOR
        ax.major_tick_in = 3
        ax.major_tick_out = 0
        ax.minor_tick_line_color = None
        ax.major_label_text_font = SANS
        ax.major_label_text_font_size = tick_size
        ax.major_label_text_color = TICK_COLOR
        ax.axis_label_text_font = SANS
        ax.axis_label_text_font_size = "13px"
        ax.axis_label_text_font_style = "normal"
        ax.axis_label_text_color = TICK_COLOR
        ax.formatter = fmt
    p.xaxis[0].ticker = FixedTicker(ticks=xt)
    p.yaxis[0].ticker = FixedTicker(ticks=yt)
    p.xaxis[0].major_label_standoff = 4
    p.yaxis[0].major_label_standoff = 2
    p.xaxis[0].axis_label_standoff = 2
    p.yaxis[0].axis_label_standoff = 0
    p.xgrid.ticker = FixedTicker(ticks=xt)
    p.ygrid.ticker = FixedTicker(ticks=yt)
    p.xgrid.grid_line_color = GRID_COLOR
    p.ygrid.grid_line_color = GRID_COLOR
    p.outline_line_color = BOX_COLOR
    p.outline_line_width = 1
    p.background_fill_color = "white"
    p.border_fill_color = "white"


def set_title(p, text, size, standoff):
    p.title.text = text
    p.title.align = "center"
    p.title.text_font = SANS
    p.title.text_font_size = size
    p.title.text_font_style = "bold"
    p.title.text_color = "black"
    p.title.standoff = standoff


def add_caption(p, text, offset, standoff):
    p.add_layout(Title(text=text, align="left", offset=offset, standoff=standoff,
                       text_font=SERIF, text_font_size="22px", text_font_style="normal",
                       text_color="black"), "below")


def text_label(p, x, y, text, size, font=SANS, style="normal", x_offset=0, y_offset=0):
    p.add_layout(Label(x=x, y=y, text=text, text_font=font, text_font_size=size,
                       text_font_style=style, text_align="left", text_baseline="middle",
                       text_color="black", x_offset=x_offset, y_offset=y_offset))


def line_panel(top, frame_h, bottom):
    p = figure(frame_width=420, frame_height=frame_h,
               x_range=Range1d(1, 50), y_range=Range1d(-1, 1),
               output_backend="svg", toolbar_location=None, frame_align=False,
               min_border_left=47, min_border_right=93,
               min_border_top=top, min_border_bottom=bottom)
    p.xaxis.axis_label = "Time Step"
    p.yaxis.axis_label = "Opinions"
    style_axes(p, X_TICKS, Y_TICKS, "12px")
    return p


def hist_panel(top, frame_h, bottom, counts, spacer_standoff):
    p = figure(frame_width=269, frame_height=frame_h,
               x_range=Range1d(-1, 1), y_range=Range1d(0, 100),
               output_backend="svg", toolbar_location=None, frame_align=False,
               min_border_left=38, min_border_right=16,
               min_border_top=top, min_border_bottom=bottom)
    style_axes(p, H_XTICKS, H_YTICKS, "10px")
    # invisible spacer label keeps the caption level with its neighbour's
    p.xaxis.axis_label = "."
    p.xaxis.axis_label_text_alpha = 0.0
    p.xaxis.axis_label_standoff = spacer_standoff
    p.quad(left=BIN_EDGES[:-1], right=BIN_EDGES[1:], bottom=[0] * len(counts), top=counts,
           fill_color="#0072BD", fill_alpha=0.6, line_color="#1f4f78", line_alpha=0.7, line_width=1)
    return p


def theta_labels(p, vals):
    for i, (sub, v) in enumerate(zip(["+", "-"], vals)):
        y = 93.5 - 7.2 * i
        text_label(p, -0.955, y, "\u03b8", "11px", font="Liberation Serif", style="italic")
        text_label(p, -0.955, y, sub, "9px", style="bold", x_offset=5, y_offset=-4)
        text_label(p, -0.955, y, "= " + v, "10px", style="bold", x_offset=12)


# ---------------- panel (a) ----------------
pA = line_panel(38, 193, 87)
set_title(pA, TITLE_A, "12px", 4)
xs, ys, cs = [], [], []
for early, late, ck in A_LINES:
    if isinstance(late, str):
        xs.append(T_E + T_Z); ys.append(early + A_TRACKS[late])
    else:
        xs.append(T_E + T_L); ys.append(early + late)
    cs.append(COL[ck])
pA.multi_line(xs="xs", ys="ys", line_color="c", line_width=1,
              source=ColumnDataSource(dict(xs=xs, ys=ys, c=cs)))
add_caption(pA, CAP_A, 83, 21)

# ---------------- panel (b) ----------------
pB = hist_panel(15, 219, 84, COUNTS_B, 15)
set_title(pB, TITLE_B, "10px", 1)
theta_labels(pB, THETA_B)
add_caption(pB, CAP_B, -32, 4)

# ---------------- panel (c) ----------------
pC = line_panel(40, 192, 80)
set_title(pC, TITLE_C, "12px", 4)
xs, ys, cs = [], [], []
for knots, track, ck in C_LINES:
    tx = [k[0] for k in knots]
    ty = [k[1] for k in knots]
    if track:
        tx = tx + T_CT
        ty = ty + C_TRACKS[track]
    xs.append(tx); ys.append(ty); cs.append(COL[ck])
pC.multi_line(xs="xs", ys="ys", line_color="c", line_width=1,
              source=ColumnDataSource(dict(xs=xs, ys=ys, c=cs)))
add_caption(pC, CAP_C, 83, 17)

# ---------------- panel (d) ----------------
pD = hist_panel(15, 221, 76, COUNTS_D, 13)
set_title(pD, TITLE_D, "10px", 1)
theta_labels(pD, THETA_D)
add_caption(pD, CAP_D, -32, 4)

layout = column(row(pA, pB), row(pC, pD))
open("out.html", "w").write(file_html(layout, INLINE))
